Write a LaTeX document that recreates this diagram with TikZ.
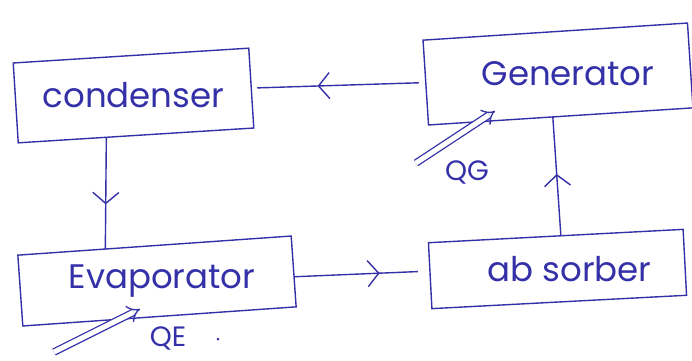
\documentclass[tikz,border=0pt]{standalone}
\usepackage{fontspec}
\setmainfont{Poppins}
\usetikzlibrary{arrows.meta,decorations.markings,calc}
\definecolor{ink}{RGB}{52,48,168}
\begin{document}
\begin{tikzpicture}[x=1pt,y=-1pt,
  conn/.style={draw=ink, line width=1.4pt},
  box/.style={draw=ink, line width=1.4pt, rectangle, inner sep=0pt, outer sep=0pt,
    text=ink, font=\fontsize{34}{36}\selectfont},
  qlabel/.style={text=ink, font=\fontsize{28}{30}\selectfont, inner sep=0pt},
  midarr/.style={postaction={decorate}, decoration={markings,
    mark=at position #1 with {\arrow[ink]{Straight Barb[length=11pt,width=26pt,line width=1.4pt]}}}},
  heat/.style={draw=ink, line width=1.3pt, double=white, double distance=5pt, -{Implies}}]
\useasboundingbox (0,0) rectangle (692,360);

\node[box, minimum width=236pt, minimum height=80pt, rotate=3.6] (cond) at (133.5,95.5)
  {\rotatebox{-3.6}{condenser}};
\node[box, minimum width=265pt, minimum height=85pt, rotate=3.7] (gen) at (558,74)
  {\rotatebox{-3.7}{\hspace*{20pt}Generator}};
\node[box, minimum width=274pt, minimum height=71pt, rotate=4] (evap) at (157,281)
  {\rotatebox{-4}{\hspace*{10pt}Evaporator}};
\node[box, minimum width=255pt, minimum height=66pt, rotate=3] (abs) at (557.5,269)
  {\rotatebox{-3}{\hspace*{24pt}ab sorber}};

% cycle connectors
\draw[conn, midarr=0.62, shorten <=7pt, shorten >=6pt] (gen.west) -- (cond.east);
\draw[conn, midarr=0.6] ($(cond.south west)!0.374!(cond.south east)$) -- ($(evap.north west)!0.32!(evap.north east)$);
\draw[conn, midarr=0.63, shorten >=12pt] ($(evap.north east)!0.575!(evap.south east)$) -- ($(abs.north west)!0.43!(abs.south west)$);
\draw[conn, midarr=0.52] ($(abs.north west)!0.52!(abs.north east)$) -- ($(gen.south west)!0.47!(gen.south east)$);

% heat inputs
\coordinate (qgS) at (416,163);
\coordinate (qgE) at (495,111);
\draw[heat] (qgS) -- (qgE);
\node[qlabel] (qg) at (467,172) {QG};

\coordinate (qeS) at (54,352);
\coordinate (qeE) at (140,309);
\draw[heat] (qeS) -- (qeE);
\node[qlabel] (qe) at (168,338) {QE};
\fill[ink] (218,339) circle (1.5pt);
\end{tikzpicture}
\end{document}
